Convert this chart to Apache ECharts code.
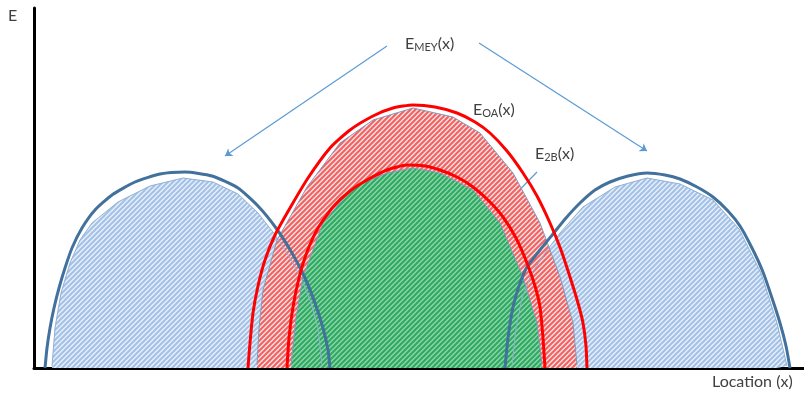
<!DOCTYPE html>
<html>
<head>
<meta charset="utf-8">
<script src="https://cdn.jsdelivr.net/npm/echarts@6/dist/echarts.min.js"></script>
<style>
  html, body { margin: 0; padding: 0; background: #fff; }
  #chart { width: 804px; height: 398px; }
</style>
</head>
<body>
<div id="chart"></div>
<script>
// x = location (px along axis), y = effort above baseline
var meyLeftLine = [[45,0],[47,20],[50,40],[54,60],[59,80],[65,100],[72,120],[82,140],[95,158],[112,173],[135,186],[160,194],[185,196],[212,192],[238,180],[258,162],[276,140],[292,115],[305,90],[315,65],[323,40],[328,18],[330,0]];
var meyLeftFill = [[52,2],[55,40],[61,75],[70,105],[80,128],[92,145],[118,166],[150,182],[183,190],[213,186],[238,174],[258,155],[276,132],[290,110],[302,88],[311,65],[318,40],[322,2]];
var meyRightLine = [[505,0],[508,30],[513,61],[519,82],[527,101],[540,118],[553,134],[566,150],[580,165],[595,178],[610,186],[628,192],[647,195],[665,193],[680,189],[697,181],[713,171],[728,157],[740,142],[752,120],[763,96],[772,70],[780,45],[786,22],[790,0]];
var meyRightFill = [[512,2],[516,40],[522,70],[532,95],[545,115],[560,135],[583,161],[615,181],[647,190],[680,184],[713,168],[739,139],[761,95],[777,45],[787,2]];
var oaLine = [[248,0],[250,25],[253,55],[258,82],[265,108],[275,133],[290,160],[308,190],[330,220],[350,238],[373,252],[393,260],[413,263],[435,261],[457,255],[475,246],[490,235],[507,217],[523,195],[537,172],[550,145],[561,118],[570,91],[578,65],[583,45],[586,22],[587,0]];
var oaFill = [[257,3],[259,40],[263,78],[277,128],[307,181],[340,225],[373,248],[413,260],[453,251],[480,235],[513,195],[540,145],[560,91],[573,45],[577,3]];
var tbLine = [[287,0],[289,30],[293,61],[299,90],[307,116],[318,140],[333,161],[350,177],[367,188],[387,198],[407,203],[425,202],[440,198],[457,191],[473,181],[489,167],[503,151],[516,130],[527,105],[535,82],[540,61],[543,30],[545,0]];
var tbFill = [[291,3],[296,50],[303,91],[323,145],[353,181],[387,195],[413,200],[440,195],[473,178],[500,145],[523,91],[537,45],[542,3]];
var arrowLines = [
  [[387,322],[225,212]],
  [[479,325],[647,217]],
  [[537,196],[502,160]]
];

function hatch(bg, fg, size, lw) {
  var c = document.createElement('canvas');
  c.width = size; c.height = size;
  var g = c.getContext('2d');
  g.fillStyle = bg;
  g.fillRect(0, 0, size, size);
  g.strokeStyle = fg;
  g.lineWidth = lw;
  g.beginPath();
  g.moveTo(-1, size + 1); g.lineTo(size + 1, -1);
  g.moveTo(-2, 2); g.lineTo(2, -2);
  g.moveTo(size - 2, size + 2); g.lineTo(size + 2, size - 2);
  g.stroke();
  return { image: c, repeat: 'repeat' };
}

var blueHatch = hatch('#e6eff9', '#a3c1e6', 5, 2);
var redHatch = hatch('#fddede', '#f06262', 5, 2);
var greenHatch = hatch('#8ad6a6', '#2ea862', 5, 2);

function fillSeries(data, pattern, border) {
  return {
    type: 'line',
    data: data,
    symbol: 'none',
    lineStyle: { color: border, width: 1 },
    areaStyle: { color: pattern, opacity: 1 },
    silent: true
  };
}
function outlineSeries(data, color, w) {
  return {
    type: 'line',
    data: data,
    symbol: 'none',
    smooth: 0.2,
    lineStyle: { color: color, width: w },
    silent: true
  };
}

var chart = echarts.init(document.getElementById('chart'));
var axisStyle = {
  axisLine: { show: true, lineStyle: { color: '#000', width: 3 } },
  axisTick: { show: false },
  axisLabel: { show: false },
  splitLine: { show: false }
};
var txt = '#404040';
var fnt = 'Lato, "Open Sans", sans-serif';
var subRich = { s: { fontSize: 11, fontFamily: fnt, fill: txt, padding: [7, 0, 0, 0] } };

chart.setOption({
  animation: false,
  backgroundColor: '#fff',
  grid: { left: 34, right: 0, top: 8, bottom: 30 },
  xAxis: Object.assign({ type: 'value', min: 34, max: 804 }, axisStyle),
  yAxis: Object.assign({ type: 'value', min: 0, max: 360 }, axisStyle),
  graphic: [
    { type: 'text', left: 8, top: 8, style: { text: 'E', fill: txt, font: '16px ' + fnt } },
    { type: 'text', left: 712, top: 374, style: { text: 'Location (x)', fill: txt, font: '16px ' + fnt } },
    { type: 'text', left: 405, top: 36, style: { text: 'E{s|MEY}(x)', fill: txt, font: '16px ' + fnt, rich: subRich } },
    { type: 'text', left: 473, top: 102, style: { text: 'E{s|OA}(x)', fill: txt, font: '16px ' + fnt, rich: subRich } },
    { type: 'text', left: 535, top: 146, style: { text: 'E{s|2B}(x)', fill: txt, font: '16px ' + fnt, rich: subRich } }
  ],
  series: [
    fillSeries(meyLeftFill, blueHatch, '#8fb0d6'),
    fillSeries(meyRightFill, blueHatch, '#8fb0d6'),
    fillSeries(oaFill, redHatch, '#7f9cc0'),
    fillSeries(tbFill, greenHatch, '#7f9cc0'),
    outlineSeries(meyLeftLine, '#41719c', 3),
    outlineSeries(meyRightLine, '#41719c', 3),
    outlineSeries(oaLine, '#ff0000', 3),
    outlineSeries(tbLine, '#ff0000', 3),
    {
      type: 'lines',
      coordinateSystem: 'cartesian2d',
      symbol: ['none', 'arrow'],
      symbolSize: 7,
      lineStyle: { color: '#5b9bd5', width: 1.2, opacity: 1 },
      data: arrowLines.map(function (c) { return { coords: c }; }),
      silent: true
    }
  ]
});
</script>
</body>
</html>
